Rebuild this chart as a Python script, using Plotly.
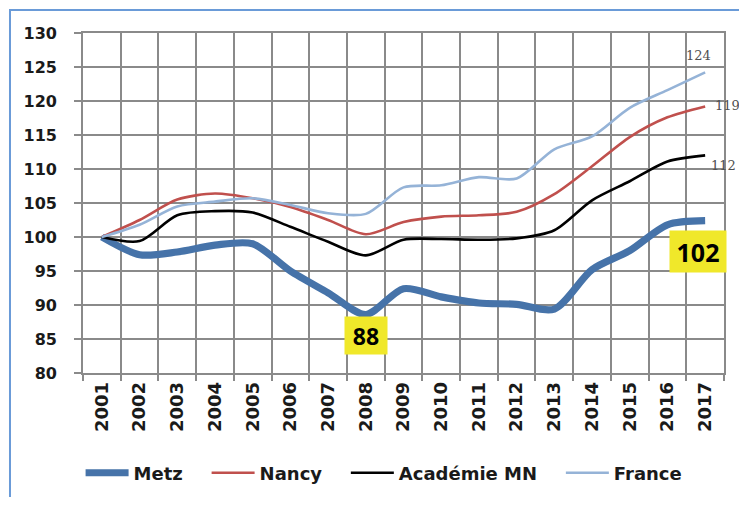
import plotly.graph_objects as go

years = [str(y) for y in range(2001, 2018)]
metz = [100, 97.4, 97.8, 98.8, 99.0, 95.0, 91.8, 88.6, 92.4, 91.2, 90.3, 90.1, 89.4, 95.2, 98.0, 101.8, 102.4]
nancy = [100, 102.5, 105.5, 106.4, 105.7, 104.4, 102.5, 100.4, 102.2, 103.0, 103.2, 103.7, 106.3, 110.4, 114.7, 117.6, 119.2]
academie = [100, 99.4, 103.2, 103.8, 103.6, 101.5, 99.3, 97.3, 99.6, 99.7, 99.6, 99.8, 101.0, 105.4, 108.2, 111.1, 112.0]
france = [100, 101.8, 104.5, 105.2, 105.7, 104.7, 103.5, 103.4, 107.3, 107.6, 108.8, 108.6, 112.9, 114.8, 119.0, 121.6, 124.2]

series_names = ["Metz", "Nancy", "Académie MN", "France"]
series_colors = ["#4673a9", "#c0504d", "#000000", "#95b3d7"]
series_widths = [7.2, 2.6, 2.6, 2.6]
series_values = [metz, nancy, academie, france]

end_labels = ["124", "119", "112"]
min_label = "88"
last_label = "102"

pad = "\u00a0" * 3
fig = go.Figure()
for name, vals, col, w in zip(series_names, series_values, series_colors, series_widths):
    fig.add_trace(go.Scatter(
        x=years, y=vals, name=name + pad, mode="lines",
        line=dict(color=col, width=w, shape="spline", smoothing=0.8),
    ))

grid = "#8a8a8a"

fig.update_layout(
    width=731, height=489,
    margin=dict(l=75, r=15, t=25, b=124),
    paper_bgcolor="white", plot_bgcolor="white",
    showlegend=True,
    legend=dict(
        orientation="h", xref="container", x=0.0993, xanchor="left",
        yref="container", y=0.049, yanchor="middle",
        font=dict(family="DejaVu Sans", size=18, color="#1a1a1a", weight="bold"),
        itemwidth=43, traceorder="normal", bgcolor="rgba(0,0,0,0)",
    ),
    xaxis=dict(
        type="category", tickson="boundaries", range=[-0.5, 16.5],
        automargin=False,
        showgrid=True, gridcolor=grid, gridwidth=1.6,
        showline=True, linecolor=grid, linewidth=1.6, mirror=True,
        ticks="outside", ticklen=6, tickcolor=grid, tickwidth=1.6,
        tickangle=-90, tickfont=dict(family="DejaVu Sans", size=18, color="#1a1a1a", weight="bold"),
        zeroline=False,
    ),
    yaxis=dict(
        range=[80, 130], dtick=5, tick0=80,
        automargin=False,
        showgrid=True, gridcolor=grid, gridwidth=1.6,
        showline=True, linecolor=grid, linewidth=1.6, mirror=True,
        ticks="outside", ticklen=7, tickcolor=grid, tickwidth=1.6,
        ticklabelstandoff=14,
        tickfont=dict(family="DejaVu Sans", size=16, color="#1a1a1a", weight="bold"),
        zeroline=False,
    ),
)

# outer frame
fig.add_shape(type="rect", xref="paper", yref="paper",
              x0=-0.1139, x1=1.1, y0=-0.5, y1=1.0676,
              line=dict(color="#6a9bd8", width=2), fillcolor="rgba(0,0,0,0)", layer="below")

last = len(years) - 1
imin = metz.index(min(metz))

small = dict(family="DejaVu Serif", size=13, color="#505050")
fig.add_annotation(x=last, y=france[-1], text=end_labels[0], showarrow=False,
                   xshift=-7, yshift=17, font=small)
fig.add_annotation(x=last, y=nancy[-1], text=end_labels[1], showarrow=False,
                   xshift=22, yshift=1, font=small)
fig.add_annotation(x=last, y=academie[-1], text=end_labels[2], showarrow=False,
                   xshift=18, yshift=-10, font=small)

fig.add_annotation(x=last, y=metz[-1], text=last_label, showarrow=False,
                   xshift=-7, yshift=-31, width=56, height=41, borderpad=0,
                   font=dict(family="Open Sans", size=25, color="#000000", weight="bold"),
                   bgcolor="#f0e82a")
fig.add_annotation(x=imin, y=metz[imin], text=min_label, showarrow=False,
                   xshift=0, yshift=-21, width=42, height=37, borderpad=0,
                   font=dict(family="Open Sans", size=23, color="#000000", weight="bold"),
                   bgcolor="#f0e82a")

fig.write_html("out.html")
